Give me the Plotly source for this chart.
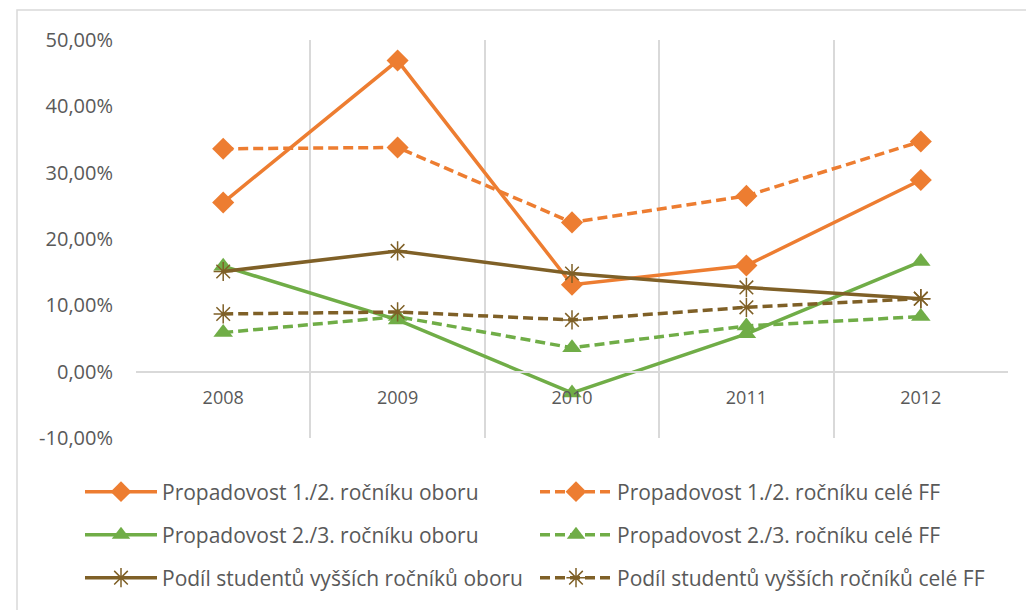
import plotly.graph_objects as go

years = ["2008", "2009", "2010", "2011", "2012"]

prop12_obor = [0.255, 0.469, 0.131, 0.160, 0.289]
prop12_ff = [0.336, 0.338, 0.225, 0.265, 0.347]
prop23_obor = [0.159, 0.078, -0.032, 0.057, 0.166]
prop23_ff = [0.059, 0.083, 0.036, 0.069, 0.083]
podil_obor = [0.151, 0.182, 0.148, 0.127, 0.110]
podil_ff = [0.087, 0.090, 0.078, 0.097, 0.110]

y_ticks = [-0.1, 0.0, 0.1, 0.2, 0.3, 0.4, 0.5]
y_labels = ["-10,00%", "0,00%", "10,00%", "20,00%", "30,00%", "40,00%", "50,00%"]

names = [
    "Propadovost 1./2. ročníku oboru",
    "Propadovost 1./2. ročníku celé FF",
    "Propadovost 2./3. ročníku oboru",
    "Propadovost 2./3. ročníku celé FF",
    "Podíl studentů vyšších ročníků oboru",
    "Podíl studentů vyšších ročníků celé FF",
]

ORANGE = "#ED7D31"
GREEN = "#70AD47"
BROWN = "#7F6027"

series = [
    (prop12_obor, ORANGE, "solid", "diamond", "legend"),
    (prop12_ff, ORANGE, "10px,5px", "diamond", "legend"),
    (prop23_obor, GREEN, "solid", "triangle-up", "legend2"),
    (prop23_ff, GREEN, "10px,5px", "triangle-up", "legend2"),
    (podil_obor, BROWN, "solid", "asterisk-open", "legend3"),
    (podil_ff, BROWN, "10px,5px", "asterisk-open", "legend3"),
]

fig = go.Figure()
for (vals, color, dash, sym, leg), name in zip(series, names):
    if sym == "asterisk-open":
        marker = dict(symbol=sym, size=16, color=color, line=dict(color=color, width=1.5))
    else:
        marker = dict(symbol=sym, size=17, color=color, line=dict(width=0))
    fig.add_trace(go.Scatter(
        x=years, y=vals, name=name, mode="lines+markers",
        line=dict(color=color, width=3.5, dash=dash),
        marker=marker, legend=leg,
    ))

# page body has an 8px margin; work in reference pixel coords minus OFF
OFF = 8
W, H = 1034 - OFF, 610 - OFF
L = 136 - OFF
T = 40 - OFF
R = W - (1008 - OFF)
B = H - (438 - OFF)
pw = W - L - R
ph = H - T - B

ymin, ymax = -0.1, 0.5
zero_pos = (0 - ymin) / (ymax - ymin)

font = "Open Sans"


def px_x(px):
    return (px - OFF - L) / pw


def px_y(py):
    return (H - B - (py - OFF)) / ph


legend_common = dict(
    orientation="h", xanchor="left", yanchor="middle",
    x=px_x(80), font=dict(family=font, size=21, color="#595959"),
    entrywidth=368, entrywidthmode="pixels", bgcolor="rgba(0,0,0,0)",
    itemwidth=72,
)

fig.update_layout(
    width=W, height=H,
    margin=dict(l=L, r=R, t=T, b=B, autoexpand=False),
    paper_bgcolor="white", plot_bgcolor="white",
    font=dict(family=font, color="#595959"),
    legend=dict(**legend_common, y=px_y(492)),
    legend2=dict(**legend_common, y=px_y(535)),
    legend3=dict(**legend_common, y=px_y(578)),
    xaxis=dict(
        type="category", tickson="boundaries", showgrid=True,
        gridcolor="#D9D9D9", gridwidth=2,
        showline=True, linecolor="#D9D9D9", linewidth=2,
        anchor="free", position=zero_pos,
        ticks="", tickfont=dict(family=font, size=18, color="#595959"),
        ticklabelstandoff=10,
        range=[-0.5, 4.5],
    ),
    yaxis=dict(
        range=[ymin, ymax], tickmode="array", tickvals=y_ticks, ticktext=y_labels,
        showgrid=False, zeroline=False, showline=False,
        ticks="", ticklabelstandoff=22,
        tickfont=dict(family=font, size=20, color="#595959"),
    ),
    shapes=[dict(
        type="rect", xref="paper", yref="paper",
        x0=px_x(17), x1=px_x(1060),
        y0=px_y(640), y1=px_y(10),
        line=dict(color="#D9D9D9", width=1.5), layer="below",
        fillcolor="rgba(0,0,0,0)",
    )],
)

fig.write_html("out.html")
